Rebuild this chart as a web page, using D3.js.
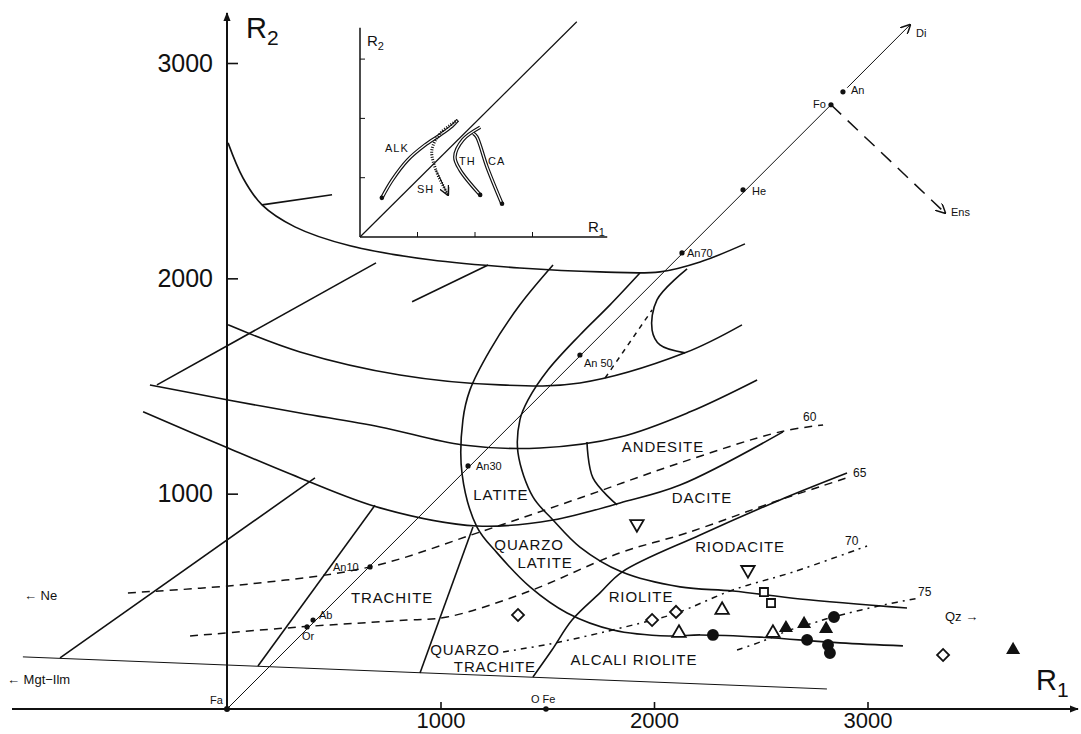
<!DOCTYPE html>
<html>
<head>
<meta charset="utf-8">
<script src="https://cdn.jsdelivr.net/npm/d3@7"></script>
<style>
body{margin:0;background:#fff}
svg{font-family:"Liberation Sans",Arial,sans-serif;color:#111}
.bd{fill:none;stroke:#111;stroke-width:1.6}
.thin{fill:none;stroke:#111;stroke-width:1}
.dash{fill:none;stroke:#111;stroke-width:1.5}
.field{font-size:15px;letter-spacing:0.9px;fill:#111;text-anchor:middle}
.small{font-size:11px;fill:#111}
.tick text{font-size:22px;fill:#111;font-family:"Liberation Sans",Arial,sans-serif}
.tick line{stroke:#111;stroke-width:1.6}
</style>
</head>
<body>
<svg id="chart" width="1081" height="734"></svg>
<script>
// ---- data (R1, R2 millications) ----
let xTicks = [1000, 2000, 3000];
let yTicks = [1000, 2000, 3000];

// solid field boundaries
let curveTop = [[5,2629],[75,2466],[164,2341],[318,2239],[576,2151],[951,2086],[1372,2048],[1747,2030],[2028,2030],[2216,2076],[2426,2160]];
let curve2 = [[5,1784],[342,1658],[810,1551],[1279,1505],[1653,1514],[2145,1654],[2412,1784]];
let curve3 = [[-361,1505],[5,1435],[342,1375],[717,1310],[1105,1226],[1466,1212],[1841,1263],[2169,1380],[2483,1528]];
let curve4 = [[-393,1380],[5,1212],[342,1073],[717,934],[1171,850],[1527,878],[1841,957],[2122,1040],[2604,1287]];
let leftC = [[1527,2062],[1372,1877],[1232,1667],[1138,1482],[1105,1343],[1101,1092],[1171,845],[1265,725],[1419,567],[1593,446],[1808,367],[2070,339],[2216,344],[2497,334],[2871,307],[3166,293]];
let rightC = [[1934,2025],[1794,1877],[1653,1737],[1504,1575],[1410,1435],[1372,1343],[1363,1189],[1433,985],[1527,878],[1653,752],[1850,636],[2122,567],[2370,548],[2684,511],[3185,469]];
let riodacite = [[1433,149],[1522,274],[1616,413],[1747,539],[1850,636],[2216,808],[2590,971],[2904,1096]];
let loopLine = [[2155,2044],[2014,1900],[1991,1760],[2028,1691],[2145,1654]];
let andesiteSep = [[1686,1240],[1714,1073],[1827,948]];
let shortLine = [[164,2341],[492,2388]];
let riseA = [[-328,1505],[698,2072]];
let riseB = [[867,1891],[1223,2062]];
let neLine = [[-782,237],[412,1073]];
let trachLine = [[145,200],[693,946]];
let qtLine = [[904,167],[1152,845]];
let mgtLine = [[-956,242],[2810,93]];

// dashed lines
let dashB2 = [[1771,1537],[1991,1853]];
let si60 = [[-464,539],[108,581],[670,660],[1185,822],[1653,980],[2122,1143],[2590,1287],[2792,1319]];
let si65 = [[-173,339],[342,381],[843,413],[1030,427],[1405,543],[1841,725],[2155,818],[2590,971],[2918,1078]];
let si70 = [[1293,265],[1513,302],[1747,353],[1991,413],[2108,446],[2370,553],[2651,636],[2998,757]];
let si75 = [[2389,274],[2497,311],[2637,367],[2745,399],[2838,427],[3073,483],[3246,516]];

// plagioclase line and mineral points
let plagEnd = [2829,2806];
let diLine = [[2905,2885],[3199,3177]];
let ensLine = [[2829,2806],[3363,2304]];
let minerals = ['Or','Ab','An10','An30','An 50','An70','He','Fo','An'];
let mineralR1 = [375,403,670,1129,1653,2131,2417,2829,2885];
let mineralR2 = [381,413,660,1129,1644,2118,2411,2806,2866];
let fePoint = [1494,0];

// samples
let openDiamond = [[1363,437],[1991,413],[2103,451],[3354,251]];
let openTriDown = [[1920,859],[2440,646]];
let openSquare = [[2515,543],[2548,492]];
let openTriUp = [[2319,460],[2117,353],[2557,353]];
let dotCircle = [[2276,344],[2717,321],[2843,427],[2815,297],[2824,260]];
let dotTri = [[2618,376],[2703,395],[2806,372],[3682,274]];

// field names
let fieldNames = ['ANDESITE','DACITE','RIODACITE','LATITE','QUARZO','LATITE','RIOLITE','TRACHITE','QUARZO','TRACHITE','ALCALI RIOLITE'];
let fieldR1 = [2042,2225,2403,1283,1415,1490,1939,773,1115,1255,1906];
let fieldR2 = [1194,957,729,971,739,655,497,492,251,172,204];

// silica isolines
let siNames = ['60','65','70','75'];
let siPos = [[2698,1338],[2932,1078],[2895,762],[3237,525]];

// inset (schematic)
let insetTicks = [1,2,3];
let alk = [[0.38,0.66],[0.56,0.96],[0.83,1.30],[1.13,1.55],[1.39,1.72],[1.60,1.87],[1.70,1.97]];
let sh = [[1.70,1.97],[1.40,1.75],[1.25,1.47],[1.32,1.13],[1.53,0.71]];
let th = [[2.09,1.85],[1.79,1.64],[1.65,1.35],[1.74,1.13],[2.09,0.71]];
let ca = [[1.97,1.75],[2.03,1.69],[2.21,1.18],[2.47,0.56]];

// ---- drawing ----
let svg = d3.select('#chart');
let x = d3.scaleLinear().domain([0,3000]).range([227,867.5]);
let y = d3.scaleLinear().domain([0,3000]).range([709,63]);

let defs = svg.append('defs');
defs.append('marker').attr('id','axarrow').attr('viewBox','0 0 10 10').attr('refX',9).attr('refY',5)
    .attr('markerWidth',9).attr('markerHeight',9).attr('markerUnits','userSpaceOnUse').attr('orient','auto')
    .append('path').attr('d','M0,1L10,5L0,9Z').attr('fill','#111');
defs.append('marker').attr('id','open').attr('viewBox','0 0 10 10').attr('refX',9).attr('refY',5)
    .attr('markerWidth',10).attr('markerHeight',10).attr('markerUnits','userSpaceOnUse').attr('orient','auto')
    .append('path').attr('d','M0,0L10,5L0,10').attr('fill','none').attr('stroke','#111').attr('stroke-width',1.5);

let smooth = d3.line().x(d=>x(d[0])).y(d=>y(d[1])).curve(d3.curveCatmullRom.alpha(0.5));
let straight = d3.line().x(d=>x(d[0])).y(d=>y(d[1]));

// axes
svg.append('line').attr('x1',12).attr('y1',y(0)).attr('x2',1078).attr('y2',y(0))
   .attr('stroke','#111').attr('stroke-width',2).attr('marker-end','url(#axarrow)');
svg.append('line').attr('x1',x(0)).attr('y1',y(0)).attr('x2',x(0)).attr('y2',13)
   .attr('stroke','#111').attr('stroke-width',2).attr('marker-end','url(#axarrow)');
let xa = svg.append('g').attr('transform',`translate(0,${y(0)})`)
   .call(d3.axisBottom(x).tickValues(xTicks).tickSizeInner(-7).tickSizeOuter(0).tickPadding(3).tickFormat(d3.format('d')));
xa.select('.domain').remove();
let ya = svg.append('g').attr('transform',`translate(${x(0)},0)`)
   .call(d3.axisLeft(y).tickValues(yTicks).tickSizeInner(-11).tickSizeOuter(0).tickPadding(14).tickFormat(d3.format('d')));
ya.select('.domain').remove();
ya.selectAll('.tick text').style('font-size','25px');

let r2 = svg.append('text').attr('x',246).attr('y',38).attr('font-size',29).attr('fill','#111');
r2.append('tspan').text('R');
r2.append('tspan').attr('font-size',21).attr('dy',7).text('2');
let r1 = svg.append('text').attr('x',1036).attr('y',690).attr('font-size',29).attr('fill','#111');
r1.append('tspan').text('R');
r1.append('tspan').attr('font-size',21).attr('dy',7).text('1');

// boundaries
[curveTop,curve2,curve3,curve4,leftC,rightC,riodacite,loopLine,andesiteSep].forEach(c=>{
    svg.append('path').attr('class','bd').attr('d',smooth(c));
});
[shortLine,riseA,riseB,neLine,trachLine,qtLine].forEach(c=>{
    svg.append('path').attr('class','bd').attr('d',straight(c));
});
svg.append('path').attr('class','thin').attr('stroke-width',1.3).attr('d',straight(mgtLine));

// dashed
svg.append('path').attr('class','dash').attr('stroke-dasharray','5,5').attr('d',straight(dashB2));
svg.append('path').attr('class','dash').attr('stroke-dasharray','8,6').attr('d',smooth(si60));
svg.append('path').attr('class','dash').attr('stroke-dasharray','8,6').attr('d',smooth(si65));
svg.append('path').attr('class','dash').attr('stroke-dasharray','6,5,2,5').attr('d',smooth(si70));
svg.append('path').attr('class','dash').attr('stroke-dasharray','6,5,2,5').attr('d',smooth(si75));
svg.selectAll('.silab').data(siNames).enter().append('text').attr('class','small')
   .attr('x',(d,i)=>x(siPos[i][0])).attr('y',(d,i)=>y(siPos[i][1])).style('font-size','12px').text(d=>d);

// plagioclase join
svg.append('path').attr('class','thin').attr('d',straight([[0,0],plagEnd]));
svg.append('path').attr('class','thin').attr('stroke-width',1.3).attr('marker-end','url(#open)').attr('d',straight(diLine));
svg.append('path').attr('class','dash').attr('stroke-dasharray','14,9').attr('marker-end','url(#open)').attr('d',straight(ensLine));

let mdots = svg.append('g');
minerals.forEach((m,i)=>{
    mdots.append('circle').attr('cx',x(mineralR1[i])).attr('cy',y(mineralR2[i])).attr('r',2.6).attr('fill','#111');
});
let mOff = {'Or':[-5,13],'Ab':[6,-1],'An10':[-37,4],'An30':[8,4],'An 50':[4,12],'An70':[5,4],'He':[9,5],'Fo':[-18,3],'An':[8,2]};
minerals.forEach((m,i)=>{
    svg.append('text').attr('class','small').attr('x',x(mineralR1[i])+mOff[m][0]).attr('y',y(mineralR2[i])+mOff[m][1]).text(m);
});
svg.append('circle').attr('cx',x(0)).attr('cy',y(0)).attr('r',3).attr('fill','#111');
svg.append('text').attr('class','small').attr('x',x(0)-17).attr('y',y(0)-5).text('Fa');
svg.append('circle').attr('cx',x(fePoint[0])).attr('cy',y(fePoint[1])).attr('r',2.8).attr('fill','#111');
svg.append('text').attr('class','small').attr('x',x(fePoint[0])-15).attr('y',y(0)-6).text('O Fe');
svg.append('text').attr('class','small').attr('x',x(3199)+6).attr('y',y(3177)+12).text('Di');
svg.append('text').attr('class','small').attr('x',x(3363)+6).attr('y',y(2304)+3).text('Ens');

svg.append('text').attr('class','small').style('font-size','13px').attr('x',24).attr('y',600).text('←  Ne');
svg.append('text').attr('class','small').style('font-size','13px').attr('x',7).attr('y',684).text('← Mgt−Ilm');
svg.append('text').attr('class','small').style('font-size','13px').attr('x',945).attr('y',621).text('Qz  →');

// field names
svg.selectAll('.field').data(fieldNames).enter().append('text').attr('class','field')
   .attr('x',(d,i)=>x(fieldR1[i])).attr('y',(d,i)=>y(fieldR2[i])).text(d=>d);

// samples
function sym(data, type, filled, rot, size){
    svg.append('g').selectAll('path').data(data).enter().append('path')
       .attr('d',d3.symbol().type(type).size(size))
       .attr('transform',d=>`translate(${x(d[0])},${y(d[1])}) rotate(${rot})`)
       .attr('fill',filled?'#111':'#fff').attr('stroke','#111').attr('stroke-width',1.8);
}
sym(openDiamond,d3.symbolSquare,false,45,72);
sym(openTriDown,d3.symbolTriangle,false,180,78);
sym(openSquare,d3.symbolSquare,false,0,66);
sym(openTriUp,d3.symbolTriangle,false,0,78);
sym(dotCircle,d3.symbolCircle,true,0,80);
sym(dotTri,d3.symbolTriangle,true,0,52);

// inset
let ix = d3.scaleLinear().domain([0,1]).range([360,417.5]);
let iy = d3.scaleLinear().domain([0,1]).range([237,177.7]);
let ins = svg.append('g');
ins.append('line').attr('x1',ix(0)).attr('y1',iy(0)).attr('x2',ix(4.3)).attr('y2',iy(0)).attr('stroke','#111').attr('stroke-width',1.5);
ins.append('line').attr('x1',ix(0)).attr('y1',iy(0)).attr('x2',ix(0)).attr('y2',iy(3.53)).attr('stroke','#111').attr('stroke-width',1.5);
ins.append('line').attr('x1',ix(0)).attr('y1',iy(0)).attr('x2',ix(3.77)).attr('y2',iy(3.63)).attr('stroke','#111').attr('stroke-width',1.2);
insetTicks.forEach(t=>{
    ins.append('line').attr('x1',ix(t)).attr('x2',ix(t)).attr('y1',iy(0)).attr('y2',iy(0)-5).attr('stroke','#111');
    ins.append('line').attr('x1',ix(0)).attr('x2',ix(0)+5).attr('y1',iy(t)).attr('y2',iy(t)).attr('stroke','#111');
});
let il = d3.line().x(d=>ix(d[0])).y(d=>iy(d[1])).curve(d3.curveCatmullRom.alpha(0.5));
[alk,th,ca].forEach(c=>{
    ins.append('path').attr('d',il(c)).attr('fill','none').attr('stroke','#111').attr('stroke-width',3.6);
    ins.append('path').attr('d',il(c)).attr('fill','none').attr('stroke','#fff').attr('stroke-width',1.3);
});
ins.append('path').attr('d',il(sh)).attr('fill','none').attr('stroke','#111').attr('stroke-width',3).attr('stroke-dasharray','1,1.5');
ins.append('path').attr('d',il(sh.slice(3))).attr('fill','none').attr('stroke','#111').attr('stroke-width',1).attr('marker-end','url(#open)');
[alk[0],th[th.length-1],ca[ca.length-1]].forEach(p=>{
    ins.append('circle').attr('cx',ix(p[0])).attr('cy',iy(p[1])).attr('r',2.3).attr('fill','#111');
});
let ir2 = ins.append('text').attr('x',367).attr('y',46).attr('font-size',15).attr('fill','#111');
ir2.append('tspan').text('R'); ir2.append('tspan').attr('font-size',11).attr('dy',4).text('2');
let ir1 = ins.append('text').attr('x',588).attr('y',232).attr('font-size',15).attr('fill','#111');
ir1.append('tspan').text('R'); ir1.append('tspan').attr('font-size',11).attr('dy',4).text('1');
ins.append('text').attr('class','small').attr('x',385).attr('y',152).attr('letter-spacing',1).text('ALK');
ins.append('text').attr('class','small').attr('x',417).attr('y',193).attr('letter-spacing',1).text('SH');
ins.append('text').attr('class','small').attr('x',459).attr('y',165).attr('letter-spacing',1).text('TH');
ins.append('text').attr('class','small').attr('x',488).attr('y',165).attr('letter-spacing',1).text('CA');
</script>
</body>
</html>
